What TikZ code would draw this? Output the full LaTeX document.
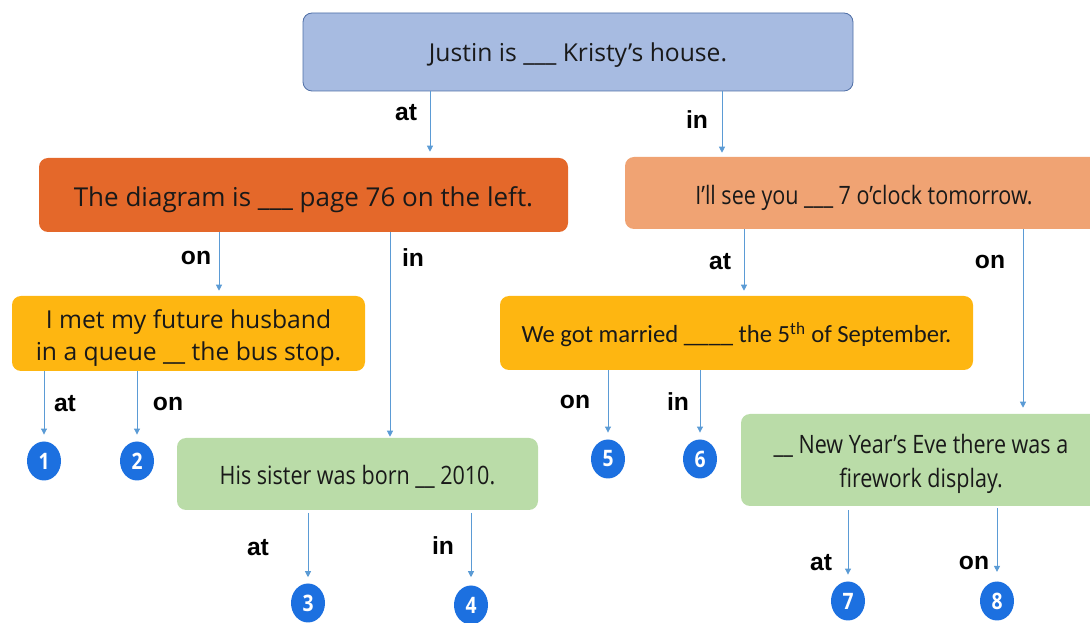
\documentclass[tikz,border=0pt]{standalone}
\usepackage{fontspec}
\setmainfont{Open Sans}
\newfontfamily\carlito{Carlito}
\newfontfamily\condfont{Open Sans}[FakeStretch=0.85]
\newfontfamily\labfont{Liberation Sans}
\usetikzlibrary{arrows.meta,shapes.geometric}
\newdimen\pxu \pxu=0.75pt
\newcommand\lowertxt[2]{\raisebox{-#1\pxu}[\height][\depth]{\begin{tabular}{@{}c@{}}#2\end{tabular}}}
\definecolor{topblue}{HTML}{A7BBE1}
\definecolor{topedge}{HTML}{4F6FA6}
\definecolor{dkorange}{HTML}{E4682A}
\definecolor{ltorange}{HTML}{F0A373}
\definecolor{yel}{HTML}{FEB611}
\definecolor{grn}{HTML}{BADCA8}
\definecolor{arrblue}{HTML}{5B9BD5}
\definecolor{numblue}{HTML}{1C70E0}
\begin{document}
\begin{tikzpicture}[x=0.75pt,y=-0.75pt,
  box/.style={rectangle, rounded corners=9\pxu, inner sep=0pt, text=black!90, font=\fontsize{18.5}{24}\selectfont},
  cbox/.style={box, font=\condfont\fontsize{19}{25}\selectfont},
  arr/.style={draw=arrblue, line width=0.7pt, -{Triangle[width=4.5pt,length=4.5pt]}},
  lab/.style={font=\labfont\bfseries\fontsize{18.5}{20}\selectfont, text=black, inner sep=0pt},
  num/.style={ellipse, fill=numblue, minimum width=34\pxu, minimum height=39\pxu, inner sep=0pt, text=white, font=\condfont\bfseries\fontsize{17}{18}\selectfont}]
\useasboundingbox (0,0) rectangle (1090,623);
\clip (0,0) rectangle (1090,623);
% boxes
\node[box, fill=topblue, draw=topedge, line width=0.6pt, minimum width=550\pxu, minimum height=78\pxu] (q0) at (578,52) {\lowertxt{3}{Justin is \_\_\_ Kristy’s house.}};
\node[box, fill=dkorange, minimum width=529\pxu, minimum height=74\pxu, font=\fontsize{19.5}{24}\selectfont] (q1) at (303.5,195) {\lowertxt{5}{The diagram is \_\_\_ page 76 on the left.}};
\node[cbox, fill=ltorange, minimum width=478\pxu, minimum height=72\pxu] (q2) at (864,193) {\lowertxt{5}{I’ll see you \_\_\_ 7 o’clock tomorrow.}};
\node[box, fill=yel, minimum width=353\pxu, minimum height=75\pxu] (q3) at (188.5,333.5) {\lowertxt{5}{I met my future husband\\in a queue \_\_ the bus stop.}};
\node[box, fill=yel, minimum width=473\pxu, minimum height=74\pxu, font=\carlito\fontsize{18.5}{22}\selectfont] (q4) at (736.5,333) {\lowertxt{4}{We got married \_\_\_\_ the 5\textsuperscript{th} of September.}};
\node[cbox, fill=grn, minimum width=361\pxu, minimum height=72\pxu] (q5) at (357.5,474) {\lowertxt{4}{His sister was born \_\_ 2010.}};
\node[cbox, fill=grn, minimum width=360\pxu, minimum height=92\pxu] (q6) at (921,460) {\lowertxt{4}{\_\_ New Year’s Eve there was a\\firework display.}};
% numbers
\node[num] (n1) at (44,461) {1};
\node[num] (n2) at (137,461) {2};
\node[num] (n3) at (308,603) {3};
\node[num] (n4) at (471,605) {4};
\node[num] (n5) at (608,459) {5};
\node[num] (n6) at (700,459) {6};
\node[num] (n7) at (848,601) {7};
\node[num] (n8) at (997,601) {8};
% arrows
\draw[arr, shorten >=4.5pt] (q0.south -| 430,0) -- (q1.north -| 430,0);
\draw[arr, shorten >=3pt] (q0.south -| 722,0) -- (q2.north -| 722,0);
\draw[arr, shorten >=3.75pt] (q1.south -| 219,0) -- (q3.north -| 219,0);
\draw[arr, shorten >=0.75pt] (q1.south -| 390,0) -- (q5.north -| 390,0);
\draw[arr, shorten >=3.75pt] (q2.south -| 744,0) -- (q4.north -| 744,0);
\draw[arr, shorten >=4.5pt] (q2.south -| 1023,0) -- (q6.north -| 1023,0);
\draw[arr, shorten >=5pt] (q3.south -| n1) -- (n1.north);
\draw[arr, shorten >=5pt] (q3.south -| n2) -- (n2.north);
\draw[arr, shorten <=2pt, shorten >=4.5pt] (q5.south -| n3) -- (n3.north);
\draw[arr, shorten <=2pt, shorten >=6pt] (q5.south -| n4) -- (n4.north);
\draw[arr, shorten >=5pt] (q4.south -| n5) -- (n5.north);
\draw[arr, shorten >=5pt] (q4.south -| n6) -- (n6.north);
\draw[arr, shorten <=3pt, shorten >=5pt] (q6.south -| n7) -- (n7.north);
\draw[arr, shorten <=1.5pt, shorten >=7pt] (q6.south -| n8) -- (n8.north);
% labels
\node[lab] (la) at (406,113) {at};
\node[lab] (lb) at (697,120) {in};
\node[lab] (lc) at (196,258) {on};
\node[lab] (ld) at (413,258) {in};
\node[lab] (le) at (720,262) {at};
\node[lab] (lf) at (990,262) {on};
\node[lab] (lg) at (65,404) {at};
\node[lab] (lh) at (168,404) {on};
\node[lab] (li) at (258,548) {at};
\node[lab] (lj) at (443,546) {in};
\node[lab] (lk) at (575,402) {on};
\node[lab] (ll) at (678,402) {in};
\node[lab] (lm) at (821,563) {at};
\node[lab] (ln) at (974,563) {on};
\end{tikzpicture}
\end{document}
